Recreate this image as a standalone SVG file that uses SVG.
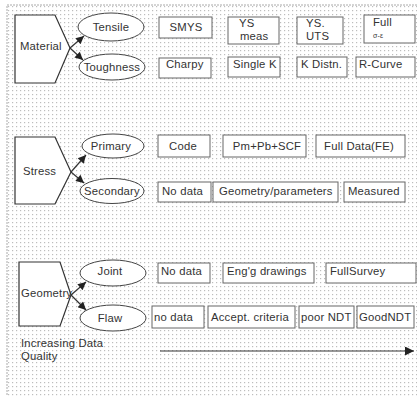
<svg xmlns="http://www.w3.org/2000/svg" width="417" height="396" viewBox="0 0 417 396">
<defs>
<pattern id="dots" x="7" y="5" width="4" height="4" patternUnits="userSpaceOnUse">
<rect x="1" y="1" width="1.2" height="1.2" fill="#bdbdbd"/>
</pattern>
<marker id="ah" viewBox="0 0 10 10" refX="10" refY="5" markerWidth="11" markerHeight="8" markerUnits="userSpaceOnUse" orient="auto">
<path d="M0,0 L10,5 L0,10 z" fill="#222"/>
</marker>
<marker id="big" viewBox="0 0 10 10" refX="10" refY="5" markerWidth="13" markerHeight="9" markerUnits="userSpaceOnUse" orient="auto">
<path d="M0,0 L10,5 L0,10 z" fill="#222"/>
</marker>
</defs>
<style>
text{font-family:"Liberation Sans",Arial,Helvetica,sans-serif;font-size:11.3px;fill:#333;letter-spacing:0.2px}
.box{fill:#fff;stroke:#666;stroke-width:1}
.ell{fill:#fff;stroke:#444;stroke-width:1}
.pent{fill:#fff;stroke:#333;stroke-width:1.2}
.con{stroke:#333;stroke-width:1.2;fill:none}
.mid{text-anchor:middle}
</style>
<rect width="417" height="396" fill="#fff"/>
<rect x="7" y="5" width="412" height="395" fill="url(#dots)" stroke="#aaa" stroke-width="1" stroke-dasharray="2,1"/>

<g id="material"><polygon class="pent" points="15,15 55,15 70,48 55,83 15,83"/><text x="20" y="50">Material</text></g>
<g id="tensile"><ellipse class="ell" cx="111" cy="27" rx="33" ry="14"/><text class="mid" x="111" y="31">Tensile</text></g>
<g id="toughness"><ellipse class="ell" cx="112" cy="67" rx="33" ry="13"/><text class="mid" x="112" y="71">Toughness</text></g>
<g id="smys"><rect class="box" x="159" y="17" width="53" height="21"/><text class="mid" x="186" y="31">SMYS</text></g>
<g id="ysmeas"><rect class="box" x="228" y="17" width="51" height="27"/><text x="239" y="27">YS</text><text x="240" y="40">meas</text></g>
<g id="ysuts"><rect class="box" x="297" y="17" width="46" height="27"/><text x="306" y="27">YS.</text><text x="306" y="40">UTS</text></g>
<g id="full"><rect class="box" x="364" y="15" width="51" height="28"/><text x="373" y="26">Full</text><text x="373" y="38" style="font-size:7px">σ-ε</text></g>
<g id="charpy"><rect class="box" x="159" y="58" width="52" height="20"/><text x="166" y="68">Charpy</text></g>
<g id="singlek"><rect class="box" x="228" y="57" width="52" height="20"/><text x="233" y="68">Single K</text></g>
<g id="kdistn"><rect class="box" x="297" y="57" width="50" height="20"/><text x="301" y="68">K Distn.</text></g>
<g id="rcurve"><rect class="box" x="356" y="57" width="59" height="20"/><text x="359" y="68">R-Curve</text></g>

<g id="stress"><polygon class="pent" points="15,137 55,137 71,172 55,204 15,204"/><text x="23" y="175">Stress</text></g>
<g id="primary"><ellipse class="ell" cx="113" cy="146" rx="31" ry="12"/><text class="mid" x="111" y="150">Primary</text></g>
<g id="secondary"><ellipse class="ell" cx="112" cy="191" rx="32" ry="12.5"/><text class="mid" x="112" y="195">Secondary</text></g>
<g id="code"><rect class="box" x="158" y="135" width="52" height="22"/><text class="mid" x="183" y="150">Code</text></g>
<g id="pm"><rect class="box" x="223" y="135" width="83" height="22"/><text class="mid" x="267" y="150">Pm+Pb+SCF</text></g>
<g id="fulldata"><rect class="box" x="316" y="135" width="89" height="22"/><text class="mid" x="359" y="150">Full Data(FE)</text></g>
<g id="nodata1"><rect class="box" x="158" y="182" width="53" height="20"/><text x="162" y="195">No data</text></g>
<g id="geompar"><rect class="box" x="213" y="182" width="125" height="20"/><text x="219" y="195">Geometry/parameters</text></g>
<g id="measured"><rect class="box" x="344" y="182" width="61" height="20"/><text x="348" y="195">Measured</text></g>

<g id="geometry"><polygon class="pent" points="19,262 60,262 71,295 60,326 19,326"/><text x="21" y="297">Geometry</text></g>
<g id="joint"><ellipse class="ell" cx="113" cy="273" rx="33" ry="13"/><text class="mid" x="110" y="275">Joint</text></g>
<g id="flaw"><ellipse class="ell" cx="113" cy="318" rx="33" ry="13"/><text class="mid" x="110" y="322">Flaw</text></g>
<g id="nodata2"><rect class="box" x="158" y="263" width="52" height="20"/><text x="161" y="275">No data</text></g>
<g id="engg"><rect class="box" x="223" y="263" width="91" height="20"/><text x="227" y="275">Eng'g drawings</text></g>
<g id="survey"><rect class="box" x="326" y="263" width="90" height="20"/><text x="330" y="275">FullSurvey</text></g>
<g id="nodata3"><rect class="box" x="152" y="306" width="52" height="22"/><text x="154" y="321">no data</text></g>
<g id="accept"><rect class="box" x="208" y="306" width="87" height="22"/><text x="211" y="321">Accept. criteria</text></g>
<g id="poor"><rect class="box" x="299" y="306" width="55" height="22"/><text x="301" y="321">poor NDT</text></g>
<g id="good"><rect class="box" x="357" y="306" width="57" height="22"/><text x="359" y="321">GoodNDT</text></g>

<g id="quality"><text x="21" y="347">Increasing Data</text><text x="21" y="360">Quality</text></g>

<g id="connectors">
<line class="con" x1="70" y1="48" x2="84" y2="36" marker-end="url(#ah)"/>
<line class="con" x1="70" y1="48" x2="83" y2="60" marker-end="url(#ah)"/>
<line class="con" x1="71" y1="172" x2="86" y2="155" marker-end="url(#ah)"/>
<line class="con" x1="71" y1="172" x2="84" y2="183" marker-end="url(#ah)"/>
<line class="con" x1="71" y1="295" x2="86" y2="282" marker-end="url(#ah)"/>
<line class="con" x1="71" y1="295" x2="86" y2="310" marker-end="url(#ah)"/>
<line class="con" x1="160" y1="351" x2="414" y2="351" marker-end="url(#big)"/>
</g>
</svg>
